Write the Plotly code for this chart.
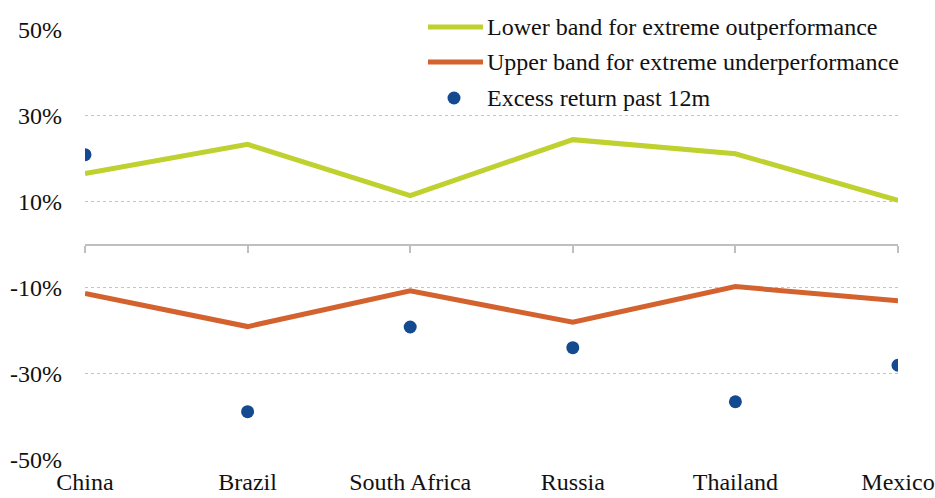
import plotly.graph_objects as go

# Markets and band values (in %)
countries = ["China", "Brazil", "South Africa", "Russia", "Thailand", "Mexico"]
lower_band_outperf = [16.5, 23.3, 11.4, 24.4, 21.1, 10.3]
upper_band_underperf = [-11.4, -19.1, -10.8, -18.1, -9.8, -13.1]
excess_return_12m = [20.9, -38.9, -19.2, -24.0, -36.6, -28.1]

y_ticks = [-50, -30, -10, 10, 30, 50]
y_tick_labels = [f"{v}%" for v in y_ticks]

legend_names = [
    "Lower band for extreme outperformance",
    "Upper band for extreme underperformance",
    "Excess return past 12m",
]

GREEN = "#bfd12e"
ORANGE = "#d4622f"
BLUE = "#144a90"
AXIS_GREY = "#bfbfbf"
FONT = "Liberation Serif, Times New Roman, Times, DejaVu Serif"
FS = 24

fig = go.Figure()

fig.add_trace(go.Scatter(
    x=countries, y=lower_band_outperf, mode="lines",
    line=dict(color=GREEN, width=5), name=legend_names[0], showlegend=False,
))
fig.add_trace(go.Scatter(
    x=countries, y=upper_band_underperf, mode="lines",
    line=dict(color=ORANGE, width=5), name=legend_names[1], showlegend=False,
))
fig.add_trace(go.Scatter(
    x=countries, y=excess_return_12m, mode="markers",
    marker=dict(color=BLUE, size=13), name=legend_names[2], showlegend=False,
))
# invisible carrier so the zero-crossing axis gets its categories
fig.add_trace(go.Scatter(
    x=countries, y=[0] * len(countries), mode="markers", xaxis="x2",
    marker=dict(opacity=0), hoverinfo="skip", showlegend=False,
))

# Hand-built legend in the upper right
L = 85
W = 813
T = 29
H = 431


def px_x(px):
    return (px - L) / W


def px_y(py):
    return (T + H - py) / H


legend_rows = [27, 62, 98]
line_x0, line_x1 = px_x(428), px_x(483)
text_x = px_x(485)

shapes = []
annotations = []
for color, row in zip([GREEN, ORANGE], legend_rows[:2]):
    shapes.append(dict(
        type="line", xref="paper", yref="paper",
        x0=line_x0, x1=line_x1, y0=px_y(row), y1=px_y(row),
        line=dict(color=color, width=5),
    ))
shapes.append(dict(
    type="circle", xref="paper", yref="paper",
    xsizemode="pixel", ysizemode="pixel",
    xanchor=px_x(454), yanchor=px_y(legend_rows[2]),
    x0=-6.5, x1=6.5, y0=-6.5, y1=6.5,
    fillcolor=BLUE, line=dict(width=0),
))
for name, row in zip(legend_names, legend_rows):
    annotations.append(dict(
        text=name, xref="paper", yref="paper",
        x=text_x, y=px_y(row), xanchor="left", yanchor="middle",
        showarrow=False, font=dict(family=FONT, size=FS, color="#111111"),
    ))

fig.update_layout(
    width=935, height=498,
    margin=dict(l=L, r=935 - L - W, t=T, b=498 - T - H, autoexpand=False),
    paper_bgcolor="white", plot_bgcolor="white",
    font=dict(family=FONT, size=FS, color="#111111"),
    xaxis=dict(
        type="category", categoryorder="array", categoryarray=countries,
        range=[0, len(countries) - 1], showgrid=False, showline=False,
        zeroline=False, ticks="", ticklabelstandoff=5, automargin=False,
        tickfont=dict(family=FONT, size=FS, color="#111111"),
    ),
    xaxis2=dict(
        type="category", categoryorder="array", categoryarray=countries,
        range=[0, len(countries) - 1], overlaying="x", anchor="free",
        position=0.5, side="bottom", showline=True, linecolor=AXIS_GREY,
        linewidth=2, ticks="outside", ticklen=7, tickwidth=2,
        tickcolor=AXIS_GREY, showticklabels=False, showgrid=False,
        zeroline=False, automargin=False,
    ),
    yaxis=dict(
        range=[-50.15, 50.15], tickvals=y_ticks, ticktext=y_tick_labels,
        showgrid=True, gridcolor="#c4c4c4", gridwidth=1, griddash="dot",
        zeroline=False, showline=False, ticks="", ticklabelstandoff=22,
        automargin=False,
        tickfont=dict(family=FONT, size=FS, color="#111111"),
    ),
    shapes=shapes,
    annotations=annotations,
    showlegend=False,
)

fig.write_html("out.html")
